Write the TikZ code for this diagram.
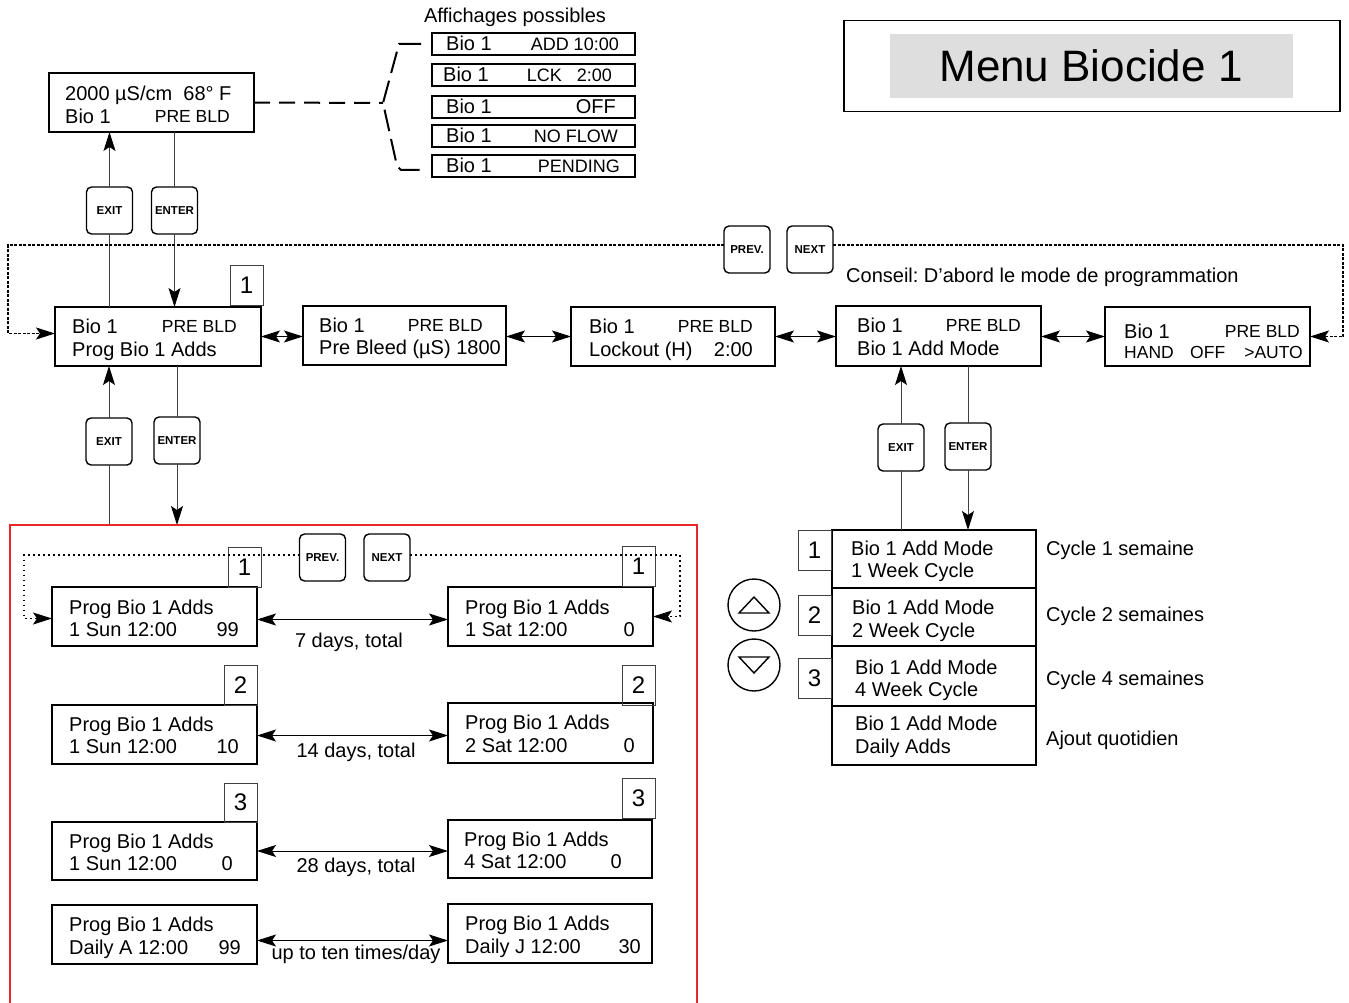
\documentclass[tikz,border=0pt]{standalone}
\usepackage{fontspec}
\setmainfont{Liberation Sans}
\usetikzlibrary{arrows.meta}
\frenchspacing
\newcommand{\fA}{\fontsize{20}{24}\selectfont}
\newcommand{\fS}{\fontsize{17.5}{21}\selectfont}
\newcommand{\fL}{\fontsize{18}{21}\selectfont}
\newcommand{\fN}{\fontsize{24}{28}\selectfont}
\newcommand{\fB}{\fontsize{11.5}{13}\selectfont\bfseries}
\newcommand{\fT}{\fontsize{44}{50}\selectfont}
\definecolor{redline}{RGB}{230,40,40}
\definecolor{menugray}{RGB}{222,222,222}
\begin{document}
\begin{tikzpicture}[x=1pt,y=-1pt,
  >={Stealth[length=19pt,width=12pt,inset=4pt,color=black]},
  dbox/.style={draw,line width=1.8pt,anchor=north west,inner sep=0pt,outer sep=0pt},
  lbox/.style={draw,line width=1.6pt,anchor=north west,inner sep=0pt,outer sep=0pt,minimum width=203pt,minimum height=22pt},
  nbox/.style={draw=black!75,line width=1pt,anchor=north west,inner sep=0pt,outer sep=0pt,font=\fN,minimum width=33pt,minimum height=40pt},
  btn/.style={draw,line width=1.4pt,rounded corners=5pt,minimum width=46pt,minimum height=47pt,inner sep=0pt,outer sep=0pt,font=\fB},
  rnd/.style={draw,circle,line width=1.4pt,minimum size=52pt,inner sep=0pt,outer sep=0pt},
  tx/.style={anchor=base west,inner sep=0pt,font=\fA},
  txr/.style={anchor=base east,inner sep=0pt,font=\fA},
  txc/.style={anchor=base,inner sep=0pt,font=\fA},
  sm/.style={anchor=base east,inner sep=0pt,font=\fS},
  sml/.style={anchor=base west,inner sep=0pt,font=\fS},
  lsm/.style={anchor=base east,inner sep=0pt,font=\fL},
  conn/.style={line width=1pt,black!75},
  dbl/.style={line width=1pt,<->},
  dsh/.style={line width=2pt,dash pattern=on 16pt off 9pt},
  loopA/.style={line width=1.5pt,dash pattern=on 3pt off 1.5pt},
  loopB/.style={line width=1.5pt,dash pattern=on 1.5pt off 3.5pt},
]
\useasboundingbox (0,0) rectangle (1349,1003);

% ---------- title ----------
\node[draw,line width=1.5pt,anchor=north west,minimum width=496pt,minimum height=91pt,inner sep=0pt] (menu) at (843,20) {};
\node[fill=menugray,anchor=north west,minimum width=403pt,minimum height=64pt,inner sep=0pt] (menuin) at (890,34) {};
\node[anchor=base,inner sep=0pt,font=\fT] (title) at (1091,82) {Menu Biocide 1};

% ---------- top display ----------
\node[dbox,minimum width=205pt,minimum height=59pt] (top) at (49,73) {};
\node[tx] (top1) at (65,101) {2000 µS/cm\ \ 68° F};
\node[tx] (top2) at (65,124) {Bio 1};
\node[sm] (top3) at (230,123) {PRE BLD};

% ---------- possible displays ----------
\node[txc] (aff) at (515,23) {Affichages possibles};
\node[lbox] (L1) at (432,33) {};
\node[tx] (L1a) at (446,51) {Bio 1};
\node[lsm] (L1b) at (619,51) {ADD 10:00};
\node[lbox] (L2) at (432,64) {};
\node[tx] (L2a) at (443,82) {Bio 1};
\node[lsm] (L2b) at (612,82) {LCK\ \ \ 2:00};
\node[lbox] (L3) at (432,96) {};
\node[tx] (L3a) at (446,114) {Bio 1};
\node[txr] (L3b) at (616,114) {OFF};
\node[lbox] (L4) at (432,125) {};
\node[tx] (L4a) at (446,143) {Bio 1};
\node[lsm] (L4b) at (618,143) {NO FLOW};
\node[lbox] (L5) at (432,155) {};
\node[tx] (L5a) at (446,173) {Bio 1};
\node[lsm] (L5b) at (620,173) {PENDING};

\coordinate (brace) at (383,103);
\coordinate (b1) at (421,44);
\coordinate (b5) at (421,170);
\draw[dsh] (top.east) -- (brace);
\draw[line width=2pt,dash pattern=on 22pt off 8pt] (b1) -- (399,44) -- (brace) -- (397,166) -- (401,170) -- (b5);

% ---------- main row ----------
\node[dbox,minimum width=206pt,minimum height=59pt] (A) at (55,307) {};
\node[tx] (A1) at (72,333) {Bio 1};
\node[sm] (A2) at (237,332) {PRE BLD};
\node[tx] (A3) at (72,356) {Prog Bio 1 Adds};
\node[nbox] (nA) at (230,265) {1};

\node[dbox,minimum width=203pt,minimum height=59pt] (B) at (303,306) {};
\node[tx] (B1) at (319,332) {Bio 1};
\node[sm] (B2) at (483,331) {PRE BLD};
\node[tx] (B3) at (319,354) {Pre Bleed (µS) 1800};

\node[dbox,minimum width=204pt,minimum height=59pt] (C) at (571,307) {};
\node[tx] (C1) at (589,333) {Bio 1};
\node[sm] (C2) at (753,332) {PRE BLD};
\node[tx] (C3) at (589,356) {Lockout (H)};
\node[txr] (C4) at (753,356) {2:00};

\node[dbox,minimum width=205pt,minimum height=60pt] (D) at (836,306) {};
\node[tx] (D1) at (857,332) {Bio 1};
\node[sm] (D2) at (1021,331) {PRE BLD};
\node[tx] (D3) at (857,355) {Bio 1 Add Mode};

\node[dbox,minimum width=205pt,minimum height=59pt] (E) at (1105,307) {};
\node[tx] (E1) at (1124,338) {Bio 1};
\node[sm] (E2) at (1300,337) {PRE BLD};
\node[sml] (E3) at (1124,358) {HAND};
\node[sml] (E4) at (1190,358) {OFF};
\node[sm] (E5) at (1303,358) {>AUTO};

\draw[dbl] (A.east) -- (B.west |- A.east);
\draw[dbl] (B.east |- C.west) -- (C.west);
\draw[dbl] (C.east) -- (D.west |- C.east);
\draw[dbl] (D.east |- E.west) -- (E.west);

\node[tx] (conseil) at (846,282) {Conseil: D’abord le mode de programmation};

% ---------- top buttons & loop ----------
\node[btn] (exit1) at (109.5,210.5) {EXIT};
\node[btn] (enter1) at (174.5,210.5) {ENTER};
\draw[conn] (exit1.south |- A.north) -- (exit1.south);
\draw[conn,->] (exit1.north) -- (exit1.north |- top.south);
\draw[conn] (enter1.north |- top.south) -- (enter1.north);
\draw[conn,->] (enter1.south) -- (enter1.south |- A.north);

\node[btn] (prev1) at (747,249.5) {PREV.};
\node[btn] (next1) at (810,249.5) {NEXT};
\coordinate (lt) at (8,245);
\coordinate (rt) at (1343,245);
\draw[loopA,->] (prev1.west |- lt) -- (lt) |- ([yshift=3pt]A.west);
\draw[loopA,->] (next1.east |- rt) -- (rt) |- (E.east);

% ---------- buttons under A ----------
\node[btn] (exit2) at (109,441.5) {EXIT};
\node[btn] (enter2) at (177,440.5) {ENTER};
\coordinate (redtl) at (10,525);
\coordinate (redtr) at (697,525);
\draw[conn,->] (exit2.north) -- (exit2.north |- A.south);
\draw[conn] (exit2.south) -- (exit2.south |- redtl);
\draw[conn] (enter2.north |- A.south) -- (enter2.north);
\draw[conn,->] (enter2.south) -- (enter2.south |- redtl);

% ---------- red frame ----------
\draw[redline,line width=1.2pt] (10,1006) -- (redtl) -- (redtr) -- (697,1006);

\node[btn] (prev2) at (322.5,557.5) {PREV.};
\node[btn] (next2) at (387,557.5) {NEXT};

% row 1
\node[dbox,minimum width=205pt,minimum height=59pt] (R1L) at (52,587) {};
\node[tx] (R1La) at (69,614) {Prog Bio 1 Adds};
\node[tx] (R1Lb) at (69,636) {1 Sun 12:00};
\node[txr] (R1Lc) at (239,636) {99};
\node[nbox] (n1L) at (228,547) {1};
\node[dbox,minimum width=205pt,minimum height=59pt] (R1R) at (448,587) {};
\node[tx] (R1Ra) at (465,614) {Prog Bio 1 Adds};
\node[tx] (R1Rb) at (465,636) {1 Sat 12:00};
\node[txr] (R1Rc) at (635,636) {0};
\node[nbox] (n1R) at (622,546) {1};
\draw[dbl] ([yshift=-3pt]R1L.east) -- ([yshift=-3pt]R1R.west);
\node[txc] (lab1) at (349,647) {7 days, total};
\coordinate (llt) at (24,555);
\coordinate (lrt) at (680,555);
\draw[loopB,->] (prev2.west |- llt) -- (llt) |- ([yshift=-2pt]R1L.west);
\draw[loopB,->] (next2.east |- lrt) -- (lrt) |- (R1R.east);

% row 2
\node[dbox,minimum width=205pt,minimum height=59pt] (R2L) at (52,705) {};
\node[tx] (R2La) at (69,731) {Prog Bio 1 Adds};
\node[tx] (R2Lb) at (69,753) {1 Sun 12:00};
\node[txr] (R2Lc) at (239,753) {10};
\node[nbox] (n2L) at (224,665) {2};
\node[dbox,minimum width=205pt,minimum height=60pt] (R2R) at (448,703) {};
\node[tx] (R2Ra) at (465,729) {Prog Bio 1 Adds};
\node[tx] (R2Rb) at (465,752) {2 Sat 12:00};
\node[txr] (R2Rc) at (635,752) {0};
\node[nbox] (n2R) at (622,665) {2};
\draw[dbl] ([yshift=-1pt]R2L.east) -- ([yshift=-1pt]R2L.east -| R2R.west);
\node[txc] (lab2) at (356,757) {14 days, total};

% row 3
\node[dbox,minimum width=205pt,minimum height=58pt] (R3L) at (52,822) {};
\node[tx] (R3La) at (69,848) {Prog Bio 1 Adds};
\node[tx] (R3Lb) at (69,870) {1 Sun 12:00};
\node[txr] (R3Lc) at (233,870) {0};
\node[nbox,minimum height=39pt] (n3L) at (224,783) {3};
\node[dbox,minimum width=204pt,minimum height=58pt] (R3R) at (448,820) {};
\node[tx] (R3Ra) at (464,846) {Prog Bio 1 Adds};
\node[tx] (R3Rb) at (464,868) {4 Sat 12:00};
\node[txr] (R3Rc) at (622,868) {0};
\node[nbox] (n3R) at (622,778) {3};
\draw[dbl] (R3L.east) -- (R3L.east -| R3R.west);
\node[txc] (lab3) at (356,872) {28 days, total};

% row 4
\node[dbox,minimum width=205pt,minimum height=59pt] (R4L) at (52,905) {};
\node[tx] (R4La) at (69,931) {Prog Bio 1 Adds};
\node[tx] (R4Lb) at (69,954) {Daily A 12:00};
\node[txr] (R4Lc) at (241,954) {99};
\node[dbox,minimum width=204pt,minimum height=59pt] (R4R) at (448,904) {};
\node[tx] (R4Ra) at (465,930) {Prog Bio 1 Adds};
\node[tx] (R4Rb) at (465,953) {Daily J 12:00};
\node[txr] (R4Rc) at (641,953) {30};
\draw[dbl] ([yshift=-6pt]R4L.east) -- ([yshift=-6pt]R4L.east -| R4R.west);
\node[txc] (lab4) at (356,959) {up to ten times/day};

% ---------- right side: add mode ----------
\node[btn] (exit3) at (901,447.5) {EXIT};
\node[btn] (enter3) at (968,446.5) {ENTER};

\node[dbox,minimum width=204pt,minimum height=58pt] (M1) at (832,530) {};
\node[tx] (M1a) at (851,555) {Bio 1 Add Mode};
\node[tx] (M1b) at (851,577) {1 Week Cycle};
\node[nbox] (nM1) at (798,530) {1};
\node[dbox,minimum width=204pt,minimum height=58pt] (M2) at (832,588) {};
\node[tx] (M2a) at (852,614) {Bio 1 Add Mode};
\node[tx] (M2b) at (852,637) {2 Week Cycle};
\node[nbox] (nM2) at (798,595) {2};
\node[dbox,minimum width=204pt,minimum height=60pt] (M3) at (832,646) {};
\node[tx] (M3a) at (855,674) {Bio 1 Add Mode};
\node[tx] (M3b) at (855,696) {4 Week Cycle};
\node[nbox] (nM3) at (798,658) {3};
\node[dbox,minimum width=204pt,minimum height=59pt] (M4) at (832,706) {};
\node[tx] (M4a) at (855,730) {Bio 1 Add Mode};
\node[tx] (M4b) at (855,753) {Daily Adds};

\node[tx] (c1) at (1046,555) {Cycle 1 semaine};
\node[tx] (c2) at (1046,621) {Cycle 2 semaines};
\node[tx] (c3) at (1046,685) {Cycle 4 semaines};
\node[tx] (c4) at (1046,745) {Ajout quotidien};

\draw[conn,->] (exit3.north) -- (exit3.north |- D.south);
\draw[conn] (exit3.south) -- (exit3.south |- M1.north);
\draw[conn] (enter3.north |- D.south) -- (enter3.north);
\draw[conn,->] (enter3.south) -- (enter3.south |- M1.north);

\node[rnd] (up) at (754,605) {};
\node[rnd] (down) at (754,665) {};
\draw[line width=1.4pt,line join=miter] ([shift={(-15,8)}]up.center) -- ([shift={(15,8)}]up.center) -- ([shift={(0,-8)}]up.center) -- cycle;
\draw[line width=1.4pt,line join=miter] ([shift={(-15,-8)}]down.center) -- ([shift={(15,-8)}]down.center) -- ([shift={(0,8)}]down.center) -- cycle;

\end{tikzpicture}
\end{document}
